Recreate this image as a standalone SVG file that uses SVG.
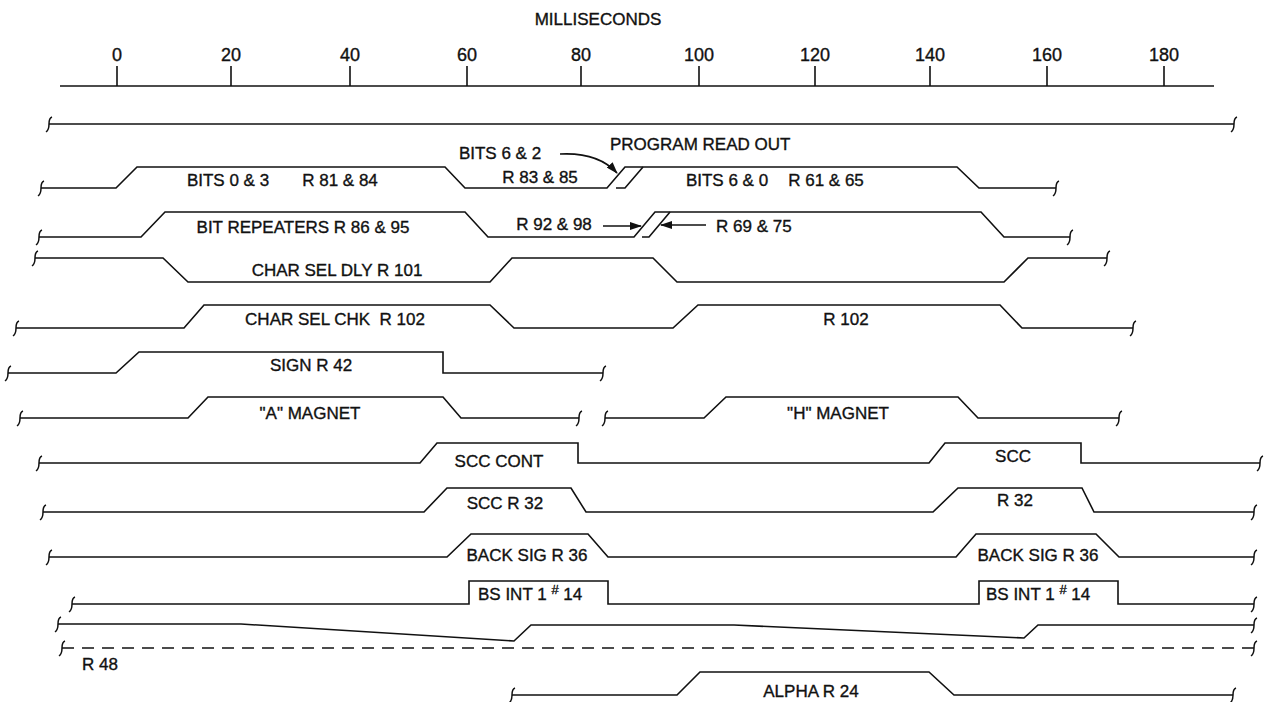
<svg xmlns="http://www.w3.org/2000/svg" xmlns:xlink="http://www.w3.org/1999/xlink" width="1267" height="702" viewBox="0 0 1267 702">
<style>
  .w { fill: none; stroke: #111; stroke-width: 1.6; stroke-linejoin: miter; }
  .d { fill: none; stroke: #111; stroke-width: 1.6; stroke-dasharray: 12 8; }
  .sq { fill: none; stroke: #111; stroke-width: 1.5; }
  .t { font-family: "Liberation Sans", Arial, sans-serif; font-size: 17px; fill: #111; stroke: #111; stroke-width: 0.35; text-anchor: middle; white-space: pre; }
  .n { font-size: 18px; }
  .s { text-anchor: start; }
  .a { fill: none; stroke: #111; stroke-width: 1.6; }
</style>
<defs>
  <path id="sq" class="sq" d="M3,-7 C0,-6 0,-3 0,0 C0,3 0,6 -3,8"/>
  <marker id="ah" viewBox="0 0 12 8" refX="11" refY="4" markerWidth="12" markerHeight="8" markerUnits="userSpaceOnUse" orient="auto">
    <path d="M0,0 L12,4 L0,8 Z" fill="#111"/>
  </marker>
</defs>
<rect width="1267" height="702" fill="#fff"/>

<g id="axis">
  <text class="t" x="598" y="25" font-size="16">MILLISECONDS</text>
  <line class="w" x1="60" y1="86" x2="1214" y2="86"/>
  <path class="w" d="M117,66 V86 M231,66 V86 M350,66 V86 M467,66 V86 M581,66 V86 M699,66 V86 M815,66 V86 M930,66 V86 M1047,66 V86 M1164,66 V86"/>
  <text class="t n" x="117" y="61">0</text>
  <text class="t n" x="231" y="61">20</text>
  <text class="t n" x="350" y="61">40</text>
  <text class="t n" x="467" y="61">60</text>
  <text class="t n" x="581" y="61">80</text>
  <text class="t n" x="699" y="61">100</text>
  <text class="t n" x="815" y="61">120</text>
  <text class="t n" x="930" y="61">140</text>
  <text class="t n" x="1047" y="61">160</text>
  <text class="t n" x="1164" y="61">180</text>
</g>

<g id="row-span">
  <path class="w" d="M49,124 H1234"/>
  <use xlink:href="#sq" x="49" y="124"/><use xlink:href="#sq" x="1234" y="124"/>
</g>

<g id="row-bits">
  <path class="w" d="M41,188 H116 L137,167 H445 L465,188 H607 L625,167 H957 L979,188 H1056"/>
  <path class="w" d="M616,188 H625 L643,167"/>
  <use xlink:href="#sq" x="41" y="188"/><use xlink:href="#sq" x="1056" y="188"/>
  <text class="t" x="228" y="186">BITS 0 &amp; 3</text>
  <text class="t" x="340" y="186">R 81 &amp; 84</text>
  <text class="t" x="500" y="159">BITS 6 &amp; 2</text>
  <text class="t" x="540" y="183">R 83 &amp; 85</text>
  <text class="t s" x="610" y="150">PROGRAM READ OUT</text>
  <text class="t" x="727" y="186">BITS 6 &amp; 0</text>
  <text class="t" x="826" y="186">R 61 &amp; 65</text>
</g>

<g id="row-repeaters">
  <path class="w" d="M39,237 H141 L165,212 H465 L488,237 H634 L655,212 H981 L1004,237 H1070"/>
  <path class="w" d="M642,237 H649 L670,212"/>
  <use xlink:href="#sq" x="39" y="237"/><use xlink:href="#sq" x="1070" y="237"/>
  <text class="t" x="303" y="233">BIT REPEATERS R 86 &amp; 95</text>
  <text class="t" x="554" y="230">R 92 &amp; 98</text>
  <text class="t s" x="716" y="232">R 69 &amp; 75</text>
</g>

<g id="row-char-sel-dly">
  <path class="w" d="M35,258 H163 L188,282 H490 L512,258 H653 L677,282 H1004 L1028,258 H1107"/>
  <use xlink:href="#sq" x="35" y="258"/><use xlink:href="#sq" x="1107" y="258"/>
  <text class="t" x="337" y="276">CHAR SEL DLY R 101</text>
</g>

<g id="row-char-sel-chk">
  <path class="w" d="M16,328 H184 L204,305 H490 L514,328 H673 L698,305 H1000 L1022,328 H1133"/>
  <use xlink:href="#sq" x="16" y="328"/><use xlink:href="#sq" x="1133" y="328"/>
  <text class="t" x="335" y="325">CHAR SEL CHK  R 102</text>
  <text class="t" x="846" y="325">R 102</text>
</g>

<g id="row-sign">
  <path class="w" d="M8,373 H116 L139,352 H443 V373 H603"/>
  <use xlink:href="#sq" x="8" y="373"/><use xlink:href="#sq" x="603" y="373"/>
  <text class="t" x="311" y="371">SIGN R 42</text>
</g>

<g id="row-magnet">
  <path class="w" d="M20,418 H188 L208,397 H443 L461,418 H579"/>
  <path class="w" d="M605,418 H704 L726,397 H958 L978,418 H1119"/>
  <use xlink:href="#sq" x="20" y="418"/><use xlink:href="#sq" x="579" y="418"/>
  <use xlink:href="#sq" x="605" y="418"/><use xlink:href="#sq" x="1119" y="418"/>
  <text class="t" x="310" y="419">"A" MAGNET</text>
  <text class="t" x="838" y="419">"H" MAGNET</text>
</g>

<g id="row-scc-cont">
  <path class="w" d="M39,463 H420 L437,443 H578 V463 H929 L945,443 H1081 V463 H1260"/>
  <use xlink:href="#sq" x="39" y="463"/><use xlink:href="#sq" x="1260" y="463"/>
  <text class="t" x="499" y="467">SCC CONT</text>
  <text class="t" x="1013" y="462">SCC</text>
</g>

<g id="row-scc-r32">
  <path class="w" d="M43,512 H424 L447,488 H571 L586,512 H933 L958,488 H1082 L1094,512 H1254"/>
  <use xlink:href="#sq" x="43" y="512"/><use xlink:href="#sq" x="1254" y="512"/>
  <text class="t" x="505" y="509">SCC R 32</text>
  <text class="t" x="1015" y="506">R 32</text>
</g>

<g id="row-back-sig">
  <path class="w" d="M49,557 H447 L471,534 H588 L608,557 H956 L976,534 H1096 L1119,557 H1254"/>
  <use xlink:href="#sq" x="49" y="557"/><use xlink:href="#sq" x="1254" y="557"/>
  <text class="t" x="527" y="561">BACK SIG R 36</text>
  <text class="t" x="1038" y="561">BACK SIG R 36</text>
</g>

<g id="row-bs-int">
  <path class="w" d="M72,604 H469 V581 H608 V604 H979 V581 H1118 V604 H1254"/>
  <use xlink:href="#sq" x="72" y="604"/><use xlink:href="#sq" x="1254" y="604"/>
  <text class="t s" x="478" y="600">BS INT 1 <tspan font-size="13" dy="-6">#</tspan><tspan dy="6"> 14</tspan></text>
  <text class="t s" x="986" y="600">BS INT 1 <tspan font-size="13" dy="-6">#</tspan><tspan dy="6"> 14</tspan></text>
</g>

<g id="row-slope">
  <path class="w" d="M58,624 H241 L514,641 L531,625 H734 L1024,638 L1038,625 H1254"/>
  <use xlink:href="#sq" x="58" y="624"/><use xlink:href="#sq" x="1254" y="625"/>
</g>

<g id="row-r48">
  <path class="d" d="M62,648 H1254"/>
  <use xlink:href="#sq" x="62" y="648"/><use xlink:href="#sq" x="1254" y="648"/>
  <text class="t s" x="82" y="670">R 48</text>
</g>

<g id="row-alpha">
  <path class="w" d="M512,695 H677 L700,672 H929 L954,695 H1233"/>
  <use xlink:href="#sq" x="512" y="695"/><use xlink:href="#sq" x="1233" y="695"/>
  <text class="t" x="811" y="697">ALPHA R 24</text>
</g>

<g id="connectors">
  <path class="a" d="M560,154 Q598,152 617,173" marker-end="url(#ah)"/>
  <path class="a" d="M603,226 H641" marker-end="url(#ah)"/>
  <path class="a" d="M706,225 H661" marker-end="url(#ah)"/>
</g>
</svg>
